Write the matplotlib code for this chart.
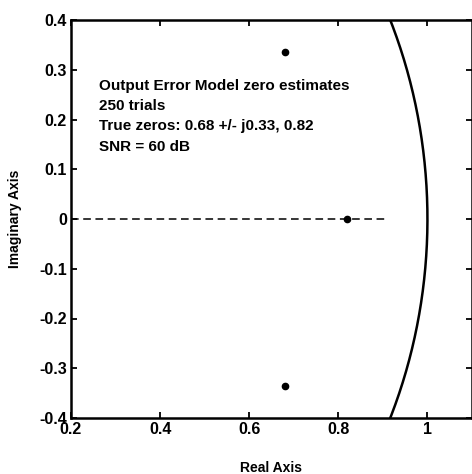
import numpy as np
import matplotlib.pyplot as plt

plt.rcParams['font.family'] = ['Liberation Sans', 'DejaVu Sans']
plt.rcParams['font.weight'] = 'bold'

# zero estimates (real, imag)
zero_re = [0.68, 0.68, 0.82]
zero_im = [0.335, -0.335, 0.0]

# unit circle arc (visible part)
theta = np.linspace(-np.pi / 2, np.pi / 2, 400)
circ_x = np.cos(theta)
circ_y = np.sin(theta)

# real axis segment
axis_x = [0.2, 0.905]
axis_y = [0.0, 0.0]

note = ("Output Error Model zero estimates\n"
        "250 trials\n"
        "True zeros: 0.68 +/- j0.33, 0.82\n"
        "SNR = 60 dB")

fig = plt.figure(figsize=(4.72, 4.74), dpi=100)
ax = fig.add_axes([71 / 472, 56 / 474, 401 / 472, 398 / 474])

ax.plot(circ_x, circ_y, color='black', lw=1.8)
ax.plot(axis_x, axis_y, color='black', lw=1.1, ls=(0, (5, 3)))
ax.plot(zero_re, zero_im, 'o', color='black', markersize=4.5)

ax.text(0.262, 0.282, note, fontsize=11, fontweight='bold',
        va='top', ha='left', linespacing=1.58)

ax.set_xlim(0.2, 1.1)
ax.set_ylim(-0.4, 0.4)
ax.set_xticks([0.2, 0.4, 0.6, 0.8, 1.0])
ax.set_xticklabels(['0.2', '0.4', '0.6', '0.8', '1'])
ax.set_yticks([-0.4, -0.3, -0.2, -0.1, 0, 0.1, 0.2, 0.3, 0.4])
ax.set_yticklabels(['-0.4', '-0.3', '-0.2', '-0.1', '0', '0.1', '0.2', '0.3', '0.4'])
ax.tick_params(direction='in', top=True, right=True, length=4, width=1.3,
               labelsize=11.5, pad=3)
for lab in ax.get_xticklabels() + ax.get_yticklabels():
    lab.set_fontweight('bold')
for sp in ax.spines.values():
    sp.set_linewidth(1.8)

ax.set_xlabel('Real Axis', fontsize=10, fontweight='bold', labelpad=17)
ax.set_ylabel('Imaginary Axis', fontsize=10, fontweight='bold', labelpad=12)

fig.savefig('out.png', dpi=100)
